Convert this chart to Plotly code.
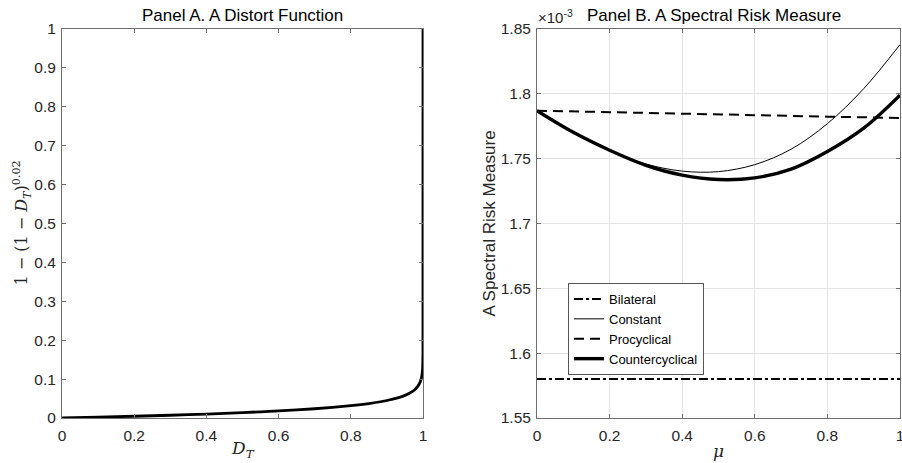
import plotly.graph_objects as go

# Panel A data
d_t = [0, 0.1, 0.2, 0.3, 0.4, 0.5, 0.6, 0.7, 0.8, 0.85, 0.9, 0.93, 0.95, 0.97, 0.98,
       0.99, 0.995, 0.998, 0.999, 0.9999, 1.0]
distort = [0, 0.0021, 0.0045, 0.0071, 0.0102, 0.0138, 0.0182, 0.0238, 0.0317, 0.0372,
           0.0450, 0.0518, 0.0582, 0.0677, 0.0753, 0.0880, 0.1004, 0.1168, 0.1290,
           0.1682, 1.0]

# Panel B data (values in units of 1e-3)
mu = [0, 0.1, 0.2, 0.3, 0.4, 0.5, 0.6, 0.7, 0.8, 0.9, 1.0]
bilateral = [1.58] * len(mu)
constant = [1.787, 1.7698, 1.7562, 1.7459, 1.7404, 1.7400, 1.7454, 1.7573, 1.7770, 1.8040, 1.838]
procyclical = [1.7870, 1.7865, 1.7859, 1.7853, 1.7847, 1.7842, 1.7836, 1.7830, 1.7824,
               1.7819, 1.7814]
countercyclical = [1.787, 1.7703, 1.7565, 1.7449, 1.7373, 1.7339, 1.7352, 1.7419, 1.7555,
                   1.7735, 1.799]

x_ticks = [0, 0.2, 0.4, 0.6, 0.8, 1]
x_ticklabels = ["0", "0.2", "0.4", "0.6", "0.8", "1"]
y_ticks_a = [0, 0.1, 0.2, 0.3, 0.4, 0.5, 0.6, 0.7, 0.8, 0.9, 1]
y_ticklabels_a = ["0", "0.1", "0.2", "0.3", "0.4", "0.5", "0.6", "0.7", "0.8", "0.9", "1"]
y_ticks_b = [1.55, 1.6, 1.65, 1.7, 1.75, 1.8, 1.85]
y_ticklabels_b = ["1.55", "1.6", "1.65", "1.7", "1.75", "1.8", "1.85"]

SANS = "Liberation Sans, Arial, sans-serif"
SERIF = "DejaVu Serif, Liberation Serif, serif"
AX = "#6e6e6e"
TXT = "#262626"

W, H = 902, 463


def px(X):
    return X / W


def py(Y):
    return 1 - Y / H


fig = go.Figure()

fig.add_trace(go.Scatter(x=d_t, y=distort, mode="lines",
                         line=dict(color="black", width=2.8, shape="spline", smoothing=0.6),
                         xaxis="x", yaxis="y", showlegend=False))

fig.add_trace(go.Scatter(x=mu, y=bilateral, mode="lines", name="Bilateral",
                         line=dict(color="black", width=2, dash="dashdot"), xaxis="x2", yaxis="y2"))
fig.add_trace(go.Scatter(x=mu, y=constant, mode="lines", name="Constant",
                         line=dict(color="black", width=1, shape="spline"), xaxis="x2", yaxis="y2"))
fig.add_trace(go.Scatter(x=mu, y=procyclical, mode="lines", name="Procyclical",
                         line=dict(color="black", width=2, dash="10px,6px"), xaxis="x2", yaxis="y2"))
fig.add_trace(go.Scatter(x=mu, y=countercyclical, mode="lines", name="Countercyclical",
                         line=dict(color="black", width=3.4, shape="spline"), xaxis="x2", yaxis="y2"))

common = dict(showline=True, linecolor=AX, linewidth=1, mirror="ticks", ticks="inside",
              ticklen=4, tickcolor=AX, zeroline=False, automargin=False,
              tickfont=dict(family=SANS, size=15.5, color=TXT))

left_dom = [px(62), px(423)]
right_dom = [px(537), px(900)]
y_dom = [py(418), py(29)]
y_mid = (y_dom[0] + y_dom[1]) / 2

fig.update_layout(
    width=W, height=H,
    margin=dict(l=0, r=0, t=0, b=0, autoexpand=False),
    paper_bgcolor="white", plot_bgcolor="white",
    xaxis=dict(domain=left_dom, range=[0, 1], tickvals=x_ticks, ticktext=x_ticklabels,
               showgrid=False, anchor="y", ticklabelstandoff=3, **common),
    yaxis=dict(domain=y_dom, range=[0, 1], tickvals=y_ticks_a, ticktext=y_ticklabels_a,
               showgrid=False, anchor="x", ticklabelstandoff=2, **common),
    xaxis2=dict(domain=right_dom, range=[0, 1], tickvals=x_ticks, ticktext=x_ticklabels,
                showgrid=True, gridcolor="#e3e3e3", anchor="y2", ticklabelstandoff=3,
                ticklabeloverflow="allow", **common),
    yaxis2=dict(domain=y_dom, range=[1.55, 1.85], tickvals=y_ticks_b, ticktext=y_ticklabels_b,
                showgrid=True, gridcolor="#e3e3e3", anchor="x2", ticklabelstandoff=2, **common),
    legend=dict(x=px(568), y=py(283), xanchor="left", yanchor="top",
                bgcolor="white", bordercolor="#555", borderwidth=1,
                font=dict(family=SANS, size=13, color="black"),
                tracegroupgap=0, itemwidth=30),
    annotations=[
        dict(text="Panel A. A Distort Function", x=(px(62) + px(423)) / 2, y=py(16), xref="paper", yref="paper",
             showarrow=False, font=dict(family=SANS, size=17, color="black"), xanchor="center", yanchor="middle"),
        dict(text="Panel B. A Spectral Risk Measure", x=px(714), y=py(16), xref="paper", yref="paper",
             showarrow=False, font=dict(family=SANS, size=17, color="black"), xanchor="center", yanchor="middle"),
        dict(text="×10<sup>-3</sup>", x=px(536), y=py(17), xref="paper", yref="paper",
             showarrow=False, font=dict(family=SANS, size=15, color=TXT), xanchor="left", yanchor="middle"),
        dict(text="<i>D<sub>T</sub></i>", x=(px(62) + px(423)) / 2, y=py(449), xref="paper", yref="paper",
             showarrow=False, font=dict(family=SERIF, size=17, color=TXT), xanchor="center", yanchor="middle"),
        dict(text="<i>μ</i>", x=px(718), y=py(451), xref="paper", yref="paper",
             showarrow=False, font=dict(family=SERIF, size=17, color=TXT), xanchor="center", yanchor="middle"),
        dict(text="1 − (1 − <i>D<sub>T</sub></i>)<sup>0.02</sup>", x=px(22), y=y_mid,
             xref="paper", yref="paper", textangle=-90, showarrow=False,
             font=dict(family=SERIF, size=16, color=TXT), xanchor="center", yanchor="middle"),
        dict(text="A Spectral Risk Measure", x=px(489), y=y_mid,
             xref="paper", yref="paper", textangle=-90, showarrow=False,
             font=dict(family=SANS, size=17, color=TXT), xanchor="center", yanchor="middle"),
    ],
)

# Remove the default page margin so the figure sits at the window's top-left corner.
fig.write_html("out.html", config={"displayModeBar": False},
               post_script="document.body.style.margin='0';document.body.style.overflow='hidden';")
